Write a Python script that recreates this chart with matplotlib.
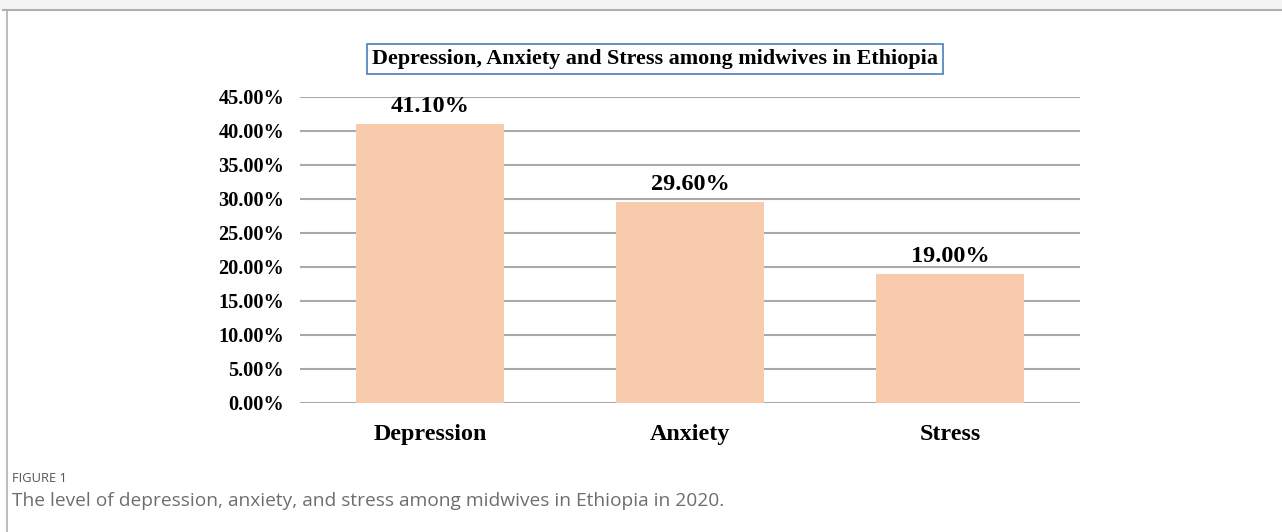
import matplotlib
matplotlib.use("Agg")
import matplotlib.pyplot as plt
from matplotlib.patches import Rectangle
from matplotlib.lines import Line2D
from matplotlib.ticker import FuncFormatter

categories = ["Depression", "Anxiety", "Stress"]
values = [41.10, 29.60, 19.00]
yticks = [0, 5, 10, 15, 20, 25, 30, 35, 40, 45]
title = "Depression, Anxiety and Stress among midwives in Ethiopia"
fig_label = "FIGURE 1"
caption = "The level of depression, anxiety, and stress among midwives in Ethiopia in 2020."

W, H = 1282, 532
fig = plt.figure(figsize=(W / 100, H / 100), dpi=100)
fig.patch.set_facecolor("white")

# page background strip and frame
fig.patches.append(Rectangle((0, 1 - 10 / H), 1, 10 / H, transform=fig.transFigure,
                             facecolor="#f3f3f3", edgecolor="none", zorder=0))
fig.lines.append(Line2D([3 / W, 1], [1 - 10 / H, 1 - 10 / H], transform=fig.transFigure,
                        color="#b0b0b0", lw=1.5))
fig.lines.append(Line2D([7 / W, 7 / W], [0, 1 - 10 / H], transform=fig.transFigure,
                        color="#b0b0b0", lw=1.2))

ax = fig.add_axes([300 / W, (H - 403) / H, 780 / W, 306 / H])
x = list(range(len(categories)))
ax.bar(x, values, width=0.573, color="#F8CBAD", zorder=2)
ax.set_xlim(-0.5, 2.5)
ax.set_ylim(0, 45)
ax.set_yticks(yticks)
ax.yaxis.set_major_formatter(FuncFormatter(lambda v, p: f"{v:.2f}%"))
ax.grid(axis="y", color="#a9a9a9", lw=1.5, zorder=1)
ax.set_axisbelow(True)
for s in ax.spines.values():
    s.set_visible(False)
ax.tick_params(axis="both", length=0)
ax.tick_params(axis="y", pad=11.5)
ax.tick_params(axis="x", pad=15)
ax.set_xticks(x)
ax.set_xticklabels(categories, fontsize=17.3, fontweight="bold", family="Liberation Serif")
for lab in ax.get_yticklabels():
    lab.set_fontsize(14.6)
    lab.set_fontweight("bold")
    lab.set_family("Liberation Serif")

for xi, v in zip(x, values):
    ax.annotate(f"{v:.2f}%", (xi, v), xytext=(0, 5), textcoords="offset points",
                ha="center", va="bottom", fontsize=17.5, fontweight="bold",
                family="Liberation Serif")

fig.text(655 / W, 1 - 59 / H, title, ha="center", va="center", fontsize=15.9,
         fontweight="bold", family="Liberation Serif",
         bbox=dict(boxstyle="square,pad=0.22", facecolor="white", edgecolor="#4a7ebb", lw=1.2))

fig.text(12 / W, 1 - 478 / H, fig_label, ha="left", va="center", fontsize=9.3,
         family="Open Sans", color="#555555")
fig.text(12 / W, 1 - 501 / H, caption, ha="left", va="center", fontsize=13.75,
         family="Open Sans", color="#6e6e6e")

fig.savefig("out.png", dpi=100)
